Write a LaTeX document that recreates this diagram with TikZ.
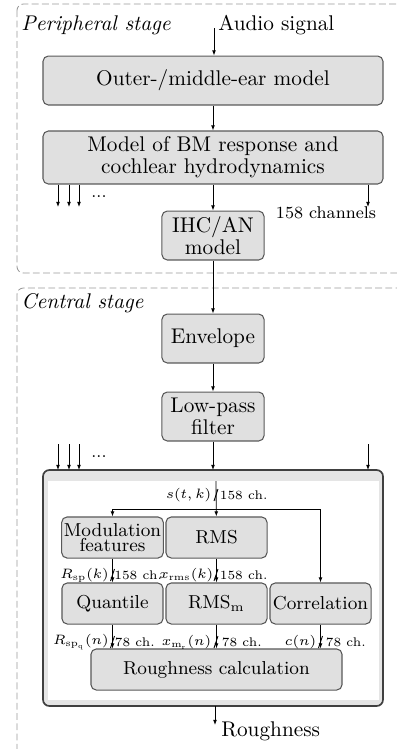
\RequirePackage{fix-cm}
\documentclass[tikz,border=0pt]{standalone}
\usetikzlibrary{arrows.meta}
\begin{document}
\begin{tikzpicture}[x=0.47pt, y=-0.47pt]
	    \tikzset{>={Latex[length=2.4pt,width=1.8pt]}}
	    \tikzset{blk/.style={draw=black!65, fill=black!12, rounded corners=2.5pt, line width=0.5pt, align=center, inner sep=1pt, font=\fontsize{10}{10.2}\selectfont},
	             sblk/.style={blk, minimum width=47.5pt, minimum height=19.3pt, font=\fontsize{8.8}{7.4}\selectfont},
	             stage/.style={draw=black!40, dash pattern=on 3.2pt off 1.6pt, rounded corners=3pt, line width=0.4pt},
	             lbl/.style={font=\fontsize{6.4}{8}\selectfont, inner sep=0.2pt},
	             chl/.style={font=\fontsize{5.9}{8}\selectfont, inner sep=0.2pt}}
	    \clip (0,0) rectangle (397,749);
	    % stages
	    \draw[stage] (17,4) rectangle (430,273);
	    \draw[stage] (17,288) rectangle (430,790);
	    \node[anchor=west, inner sep=0] (peri) at (21,25) {\textit{Peripheral stage}};
	    \node[anchor=west, inner sep=0] (cent) at (21,303) {\textit{Central stage}};
	    % peripheral stage
	    \coordinate (in) at (214,28);
	    \node[anchor=west, inner sep=0] (audio) at (218,25) {Audio signal};
	    \node[blk, minimum width=159.8pt, minimum height=23pt] (ome) at (213,80.5) {Outer-/middle-ear model};
	    \node[blk, minimum width=159.8pt, minimum height=24.9pt] (bm) at (213,157.5) {Model of BM response and\\cochlear hydrodynamics};
	    \node[blk, minimum width=48pt, minimum height=23pt] (ihc) at (213,235.5) {IHC/AN\\model};
	    \node[font=\footnotesize, inner sep=0.5pt] (chan) at (326,213) {158 channels};
	    \node[font=\footnotesize, anchor=base] (dots1) at (99,197) {...};
	    \draw[->] (in) -- (in |- ome.north);
	    \draw[->] (ome) -- (bm);
	    \draw[->] (bm) -- (ihc);
	    \foreach \x in {58,69,79,368} {
	        \coordinate (ch\x) at (\x,207);
	        \draw[->] (bm.south -| ch\x) -- (ch\x);
	    }
	    % central stage
	    \node[blk, minimum width=48pt, minimum height=23pt] (env) at (213,338.5) {Envelope};
	    \node[blk, minimum width=48pt, minimum height=23pt] (lp) at (213,416.5) {Low-pass\\filter};
	    \node[font=\footnotesize, anchor=base] (dots2) at (99,457) {...};
	    \draw[->] (ihc) -- (env);
	    \draw[->] (env) -- (lp);
	    \draw[draw=black!75, fill=black!10, rounded corners=3pt, line width=0.8pt] (43,470) rectangle (383,706);
	    \fill[white] (48,481) rectangle (379,700);
	    \coordinate (cont) at (213,470);
	    \draw[->] (lp) -- (cont);
	    \foreach \x in {58,69,79,368} {
	        \coordinate (cin\x) at (\x,444);
	        \draw[->] (cin\x) -- (cin\x |- cont);
	    }
	    \node[sblk] (mod) at (112.5,537.5) {Modulation\\features};
	    \node[sblk] (rms) at (216.5,537.5) {RMS};
	    \node[sblk] (qua) at (112.5,603.5) {Quantile};
	    \node[sblk] (rmsm) at (216.5,603.5) {RMS$_\mathrm{m}$};
	    \node[sblk] (cor) at (320.5,603.5) {Correlation};
	    \node[sblk, minimum width=118pt] (rc) at (216.5,669.5) {Roughness calculation};
	    \coordinate (top) at (216,481);
	    \coordinate (split) at (216,509);
	    \draw[->] (top) -- (rms);
	    \draw[->] (split) -| (mod);
	    \draw[->] (split) -| (cor);
	    \draw[->] (mod) -- (qua);
	    \draw[->] (rms) -- (rmsm);
	    \draw[->] (qua) -- (qua |- rc.north);
	    \draw[->] (rmsm) -- (rmsm |- rc.north);
	    \draw[->] (cor) -- (cor |- rc.north);
	    % labels
	    \node[lbl, anchor=east] (s) at (212,495) {$s(t,k)$};
	    \node[chl, anchor=west] (s2) at (219,495) {158 ch.};
	    \draw (214,501) -- (218,489);
	    \node[lbl, anchor=east] (rsp) at (109.5,575) {$R_\mathrm{sp}(k)$};
	    \node[chl, anchor=west] (rsp2) at (113.5,575) {158 ch.};
	    \draw (110.5,581) -- (114.5,569);
	    \node[lbl, anchor=east] (xr) at (214,575) {$x_\mathrm{rms}(k)$};
	    \node[chl, anchor=west] (xr2) at (219,575) {158 ch.};
	    \draw (214,581) -- (218,569);
	    \node[lbl, anchor=east] (rq) at (109.5,642) {$R_{\mathrm{sp}_\mathrm{q}}(n)$};
	    \node[chl, anchor=west] (rq2) at (114,642) {78 ch.};
	    \draw (110.5,648) -- (114.5,636);
	    \node[lbl, anchor=east] (xm) at (212,642) {$x_{\mathrm{m}_\mathrm{r}}(n)$};
	    \node[chl, anchor=west] (xm2) at (221,642) {78 ch.};
	    \draw (214,648) -- (218,636);
	    \node[lbl, anchor=east] (cn) at (317,642) {$c(n)$};
	    \node[chl, anchor=west] (cn2) at (325,642) {78 ch.};
	    \draw (318.5,648) -- (322.5,636);
	    % output
	    \coordinate (out) at (215,725);
	    \node[anchor=west, inner sep=0] (rough) at (221,731) {Roughness};
	    \draw[->] (out |- 0,706) -- (out);
\end{tikzpicture}
\end{document}
